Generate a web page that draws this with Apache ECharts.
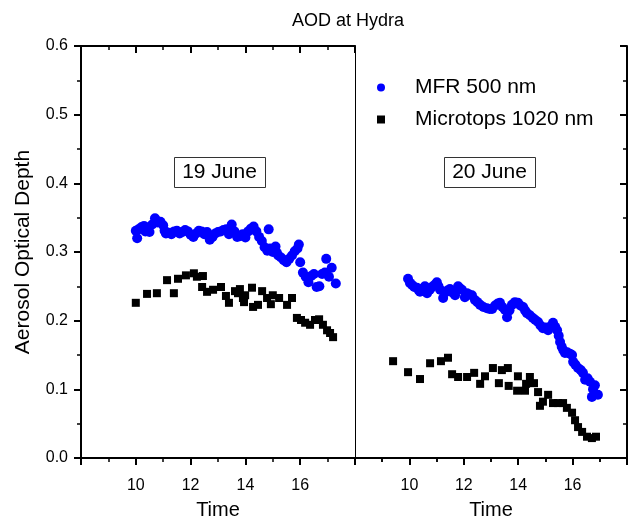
<!DOCTYPE html>
<html>
<head>
<meta charset="utf-8">
<script src="https://cdn.jsdelivr.net/npm/echarts@6/dist/echarts.min.js"></script>
<style>
  html, body { margin: 0; padding: 0; background: #fff; }
  #chart { width: 628px; height: 521px; }
</style>
</head>
<body>
<div id="chart"></div>
<script>
// [hour, AOD] pairs
const mfr19 = [[10.0,0.331],[10.05,0.320],[10.1,0.333],[10.2,0.336],[10.3,0.338],[10.35,0.330],[10.45,0.332],[10.5,0.329],[10.6,0.340],[10.7,0.349],[10.75,0.346],[10.8,0.343],[10.9,0.344],[11.0,0.339],[11.05,0.331],[11.1,0.327],[11.2,0.328],[11.3,0.326],[11.4,0.330],[11.5,0.331],[11.6,0.327],[11.7,0.329],[11.8,0.332],[11.9,0.330],[12.0,0.325],[12.1,0.322],[12.2,0.327],[12.3,0.331],[12.4,0.330],[12.5,0.326],[12.6,0.329],[12.7,0.318],[12.8,0.322],[12.9,0.327],[13.0,0.329],[13.1,0.330],[13.2,0.332],[13.3,0.333],[13.4,0.326],[13.5,0.340],[13.6,0.330],[13.7,0.322],[13.8,0.323],[13.9,0.326],[14.0,0.321],[14.1,0.330],[14.2,0.334],[14.3,0.337],[14.4,0.330],[14.5,0.322],[14.6,0.316],[14.7,0.307],[14.8,0.302],[14.85,0.333],[14.9,0.305],[15.0,0.300],[15.1,0.308],[15.15,0.299],[15.2,0.295],[15.3,0.292],[15.4,0.288],[15.5,0.285],[15.6,0.290],[15.7,0.295],[15.8,0.301],[15.9,0.305],[15.95,0.311],[16.0,0.285],[16.1,0.270],[16.2,0.264],[16.3,0.256],[16.4,0.265],[16.5,0.268],[16.6,0.249],[16.7,0.250],[16.8,0.268],[16.9,0.270],[16.95,0.290],[17.05,0.264],[17.15,0.277],[17.3,0.254]];
const micro19 = [[10.0,0.226],[10.41,0.239],[10.77,0.240],[11.14,0.259],[11.39,0.240],[11.54,0.261],[11.83,0.266],[12.12,0.269],[12.23,0.264],[12.45,0.265],[12.42,0.249],[12.6,0.242],[12.82,0.245],[13.11,0.249],[13.29,0.236],[13.4,0.226],[13.62,0.243],[13.73,0.240],[13.8,0.246],[13.91,0.233],[13.99,0.237],[13.95,0.227],[14.24,0.248],[14.28,0.220],[14.46,0.223],[14.61,0.243],[14.79,0.233],[14.93,0.224],[15.0,0.237],[15.23,0.233],[15.52,0.223],[15.7,0.233],[15.88,0.204],[16.03,0.201],[16.18,0.197],[16.36,0.194],[16.54,0.201],[16.69,0.202],[16.83,0.194],[16.98,0.186],[17.09,0.182],[17.2,0.176]];
const mfr20 = [[9.95,0.261],[10.02,0.255],[10.1,0.252],[10.18,0.249],[10.28,0.248],[10.35,0.244],[10.39,0.242],[10.47,0.246],[10.57,0.250],[10.65,0.240],[10.75,0.245],[10.83,0.249],[10.92,0.252],[11.01,0.256],[11.07,0.250],[11.13,0.245],[11.24,0.233],[11.32,0.241],[11.4,0.244],[11.49,0.246],[11.58,0.241],[11.68,0.237],[11.79,0.250],[11.86,0.247],[11.93,0.245],[12.04,0.234],[12.12,0.240],[12.2,0.238],[12.3,0.237],[12.41,0.230],[12.5,0.227],[12.6,0.223],[12.72,0.220],[12.85,0.218],[12.95,0.217],[13.04,0.217],[13.15,0.222],[13.25,0.225],[13.33,0.226],[13.42,0.220],[13.51,0.216],[13.59,0.205],[13.68,0.215],[13.77,0.223],[13.88,0.227],[13.99,0.226],[14.08,0.222],[14.18,0.220],[14.25,0.215],[14.32,0.211],[14.43,0.208],[14.54,0.204],[14.63,0.201],[14.73,0.198],[14.82,0.193],[14.91,0.189],[15.0,0.190],[15.1,0.186],[15.2,0.192],[15.28,0.197],[15.36,0.191],[15.43,0.186],[15.49,0.178],[15.54,0.169],[15.6,0.162],[15.66,0.157],[15.72,0.153],[15.8,0.154],[15.9,0.152],[15.98,0.150],[16.02,0.140],[16.1,0.136],[16.2,0.131],[16.3,0.128],[16.38,0.124],[16.46,0.114],[16.55,0.116],[16.64,0.111],[16.71,0.089],[16.75,0.100],[16.82,0.106],[16.93,0.092]];
const micro20 = [[9.4,0.141],[9.95,0.125],[10.39,0.115],[10.76,0.138],[11.16,0.141],[11.42,0.146],[11.57,0.122],[11.79,0.118],[12.12,0.118],[12.38,0.124],[12.6,0.108],[12.78,0.119],[13.07,0.131],[13.29,0.109],[13.4,0.128],[13.62,0.131],[13.65,0.105],[13.96,0.098],[13.99,0.119],[14.25,0.098],[14.29,0.108],[14.43,0.118],[14.58,0.109],[14.73,0.096],[14.8,0.076],[14.91,0.082],[15.1,0.092],[15.28,0.080],[15.46,0.080],[15.65,0.080],[15.79,0.073],[15.98,0.066],[16.09,0.055],[16.2,0.045],[16.35,0.038],[16.53,0.031],[16.71,0.029],[16.86,0.031]];

const seriesNames = ['MFR 500 nm', 'Microtops 1020 nm'];
const panelLabels = ['19 June', '20 June'];
const font = 'Liberation Sans, Arial, sans-serif';

const chart = echarts.init(document.getElementById('chart'));

const timeAxis = (grid, pos) => ({
  type: 'value', gridIndex: grid, position: pos,
  min: 8, max: 18, interval: 2,
  axisLine: { show: true, lineStyle: { color: '#000', width: 2 } },
  axisTick: { show: true, inside: pos === 'top', length: 7, lineStyle: { color: '#000', width: 2 } },
  minorTick: { show: true, splitNumber: 2, length: 4, lineStyle: { color: '#000', width: 1.5 } },
  splitLine: { show: false },
  axisLabel: {
    show: pos === 'bottom', color: '#000', fontSize: 16, fontFamily: font, margin: 20,
    formatter: v => (v === 8 || v === 18) ? '' : v
  },
  name: pos === 'bottom' ? 'Time' : '',
  nameLocation: 'middle', nameGap: 42,
  nameTextStyle: { color: '#000', fontSize: 20, fontFamily: font }
});

const aodAxis = (grid, pos, opts) => Object.assign({
  type: 'value', gridIndex: grid, position: pos,
  min: 0, max: 0.6, interval: 0.1,
  axisLine: { show: true, lineStyle: { color: '#000', width: 2 } },
  axisTick: { show: true, inside: pos === 'right', length: 7, lineStyle: { color: '#000', width: 2 } },
  minorTick: { show: true, splitNumber: 2, length: 4, lineStyle: { color: '#000', width: 1.5 } },
  splitLine: { show: false },
  axisLabel: { show: false }
}, opts);

const option = {
  animation: false,
  backgroundColor: '#fff',
  title: {
    text: 'AOD at Hydra', left: 348, top: 12, textAlign: 'center', padding: 0,
    textStyle: { color: '#000', fontSize: 18, fontWeight: 'normal', fontFamily: font }
  },
  legend: {
    data: seriesNames, orient: 'vertical', left: 377, top: 77, padding: 0,
    itemWidth: 8, itemHeight: 8, itemGap: 11,
    textStyle: { color: '#000', fontSize: 21, fontFamily: font, padding: [0, 0, 0, 25] }
  },
  grid: [
    { left: 81, top: 46, width: 274, height: 412, outerBoundsMode: 'none' },
    { left: 355, top: 46, width: 272, height: 412, outerBoundsMode: 'none' }
  ],
  xAxis: [timeAxis(0, 'bottom'), timeAxis(0, 'top'), timeAxis(1, 'bottom'), timeAxis(1, 'top')],
  yAxis: [
    aodAxis(0, 'left', {
      axisLabel: { show: true, color: '#000', fontSize: 16, fontFamily: font, margin: 13, formatter: v => v.toFixed(1) },
      name: 'Aerosol Optical Depth', nameLocation: 'middle', nameGap: 47,
      nameTextStyle: { color: '#000', fontSize: 21, fontFamily: font }
    }),
    aodAxis(1, 'left', {
      axisLine: { show: true, lineStyle: { color: '#000', width: 1 } },
      axisTick: { show: false }, minorTick: { show: false }
    }),
    aodAxis(1, 'right', {})
  ],
  series: [
    { name: seriesNames[0], type: 'scatter', xAxisIndex: 0, yAxisIndex: 0, data: mfr19, symbol: 'circle', symbolSize: 10, itemStyle: { color: '#0000ff', opacity: 1 } },
    { name: seriesNames[1], type: 'scatter', xAxisIndex: 0, yAxisIndex: 0, data: micro19, symbol: 'rect', symbolSize: 8, itemStyle: { color: '#000', opacity: 1 } },
    { name: seriesNames[0], type: 'scatter', xAxisIndex: 2, yAxisIndex: 1, data: mfr20, symbol: 'circle', symbolSize: 10, itemStyle: { color: '#0000ff', opacity: 1 } },
    { name: seriesNames[1], type: 'scatter', xAxisIndex: 2, yAxisIndex: 1, data: micro20, symbol: 'rect', symbolSize: 8, itemStyle: { color: '#000', opacity: 1 } }
  ],
  graphic: [
    { type: 'rect', left: 174, top: 157, shape: { width: 91, height: 30 }, style: { fill: '#fff', stroke: '#333', lineWidth: 1 } },
    { type: 'text', x: 219.5, y: 172.5, style: { text: panelLabels[0], fill: '#000', font: '21px ' + font, textAlign: 'center', textVerticalAlign: 'middle' } },
    { type: 'rect', left: 444, top: 157, shape: { width: 91, height: 30 }, style: { fill: '#fff', stroke: '#333', lineWidth: 1 } },
    { type: 'text', x: 489.5, y: 172.5, style: { text: panelLabels[1], fill: '#000', font: '21px ' + font, textAlign: 'center', textVerticalAlign: 'middle' } }
  ]
};

chart.setOption(option);
</script>
</body>
</html>
